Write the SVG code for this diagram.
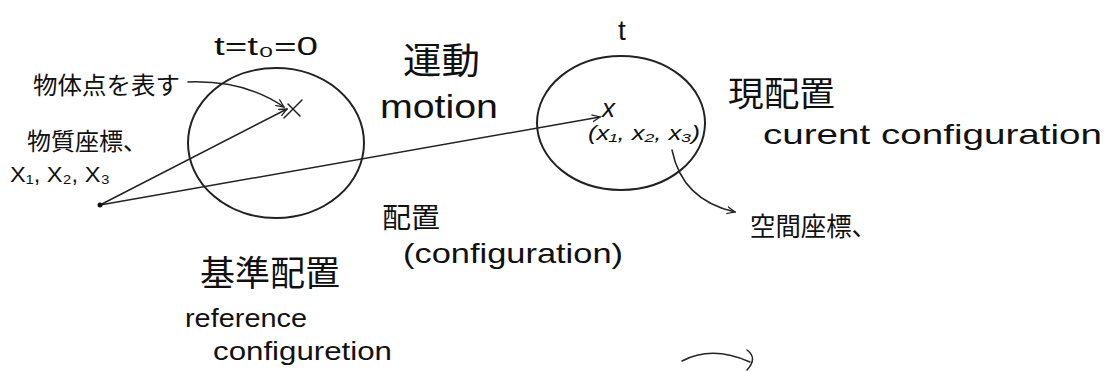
<svg xmlns="http://www.w3.org/2000/svg" width="1109" height="372" viewBox="0 0 1109 372">
<defs>
<marker id="ah" viewBox="0 0 10 10" refX="9" refY="5" markerWidth="9" markerHeight="9" markerUnits="userSpaceOnUse" orient="auto">
<path d="M0,1 L9,5 L0,9" fill="none" stroke="#222" stroke-width="1.4"/>
</marker>
</defs>
<style>
.ln{fill:none;stroke:#222;stroke-width:1.5;stroke-linecap:round}
.cir{fill:none;stroke:#222;stroke-width:2}
.jp{font-family:"Noto Sans CJK JP",sans-serif;fill:#111}
.en{font-family:"Liberation Sans",sans-serif;fill:#111}
</style>
<rect width="1109" height="372" fill="#fff"/>
<g id="connectors">
<line class="ln" x1="100" y1="205" x2="287" y2="109" marker-end="url(#ah)"/>
<line class="ln" x1="100" y1="205" x2="600" y2="117" marker-end="url(#ah)"/>
<path class="ln" d="M188,82 Q245,80 284,107" marker-end="url(#ah)"/>
<path class="ln" d="M672,150 Q682,200 735,212" marker-end="url(#ah)"/>
<circle cx="100" cy="205" r="2.5" fill="#111"/>
</g>
<g id="reference-configuration">
<ellipse class="cir" cx="276" cy="143" rx="88" ry="75"/>
<path class="ln" d="M284,118 L302,100 M288,104 L300,116" stroke-width="2"/>
<text class="en" x="214" y="55" font-size="26" textLength="104" lengthAdjust="spacingAndGlyphs">t=t₀=0</text>
</g>
<g id="current-configuration">
<ellipse class="cir" cx="621" cy="123" rx="84" ry="67"/>
<text class="en" x="618" y="40" font-size="28">t</text>
<text class="en" x="602" y="117" font-size="26" font-style="italic">x</text>
<text class="en" x="588" y="140" font-size="20" font-style="italic" textLength="112" lengthAdjust="spacingAndGlyphs">(x₁, x₂, x₃)</text>
</g>
<g id="labels">
<text class="jp" x="33" y="94" font-size="24" textLength="147" lengthAdjust="spacingAndGlyphs">物体点を表す</text>
<text class="jp" x="27" y="150" font-size="24" textLength="120" lengthAdjust="spacingAndGlyphs">物質座標、</text>
<text class="en" x="10" y="182" font-size="22" textLength="100" lengthAdjust="spacingAndGlyphs">X₁, X₂, X₃</text>
<text class="jp" x="403" y="74" font-size="36" textLength="77" lengthAdjust="spacingAndGlyphs">運動</text>
<text class="en" x="380" y="118" font-size="34" textLength="118" lengthAdjust="spacingAndGlyphs">motion</text>
<text class="jp" x="728" y="106" font-size="34" textLength="107" lengthAdjust="spacingAndGlyphs">現配置</text>
<text class="en" x="763" y="144" font-size="28" textLength="339" lengthAdjust="spacingAndGlyphs">curent configuration</text>
<text class="jp" x="750" y="236" font-size="26" textLength="127" lengthAdjust="spacingAndGlyphs">空間座標、</text>
<text class="jp" x="382" y="228" font-size="28" textLength="58" lengthAdjust="spacingAndGlyphs">配置</text>
<text class="en" x="403" y="263" font-size="28" textLength="220" lengthAdjust="spacingAndGlyphs">(configuration)</text>
<text class="jp" x="200" y="286" font-size="35" textLength="140" lengthAdjust="spacingAndGlyphs">基準配置</text>
<text class="en" x="185" y="327" font-size="26" textLength="122" lengthAdjust="spacingAndGlyphs">reference</text>
<text class="en" x="213" y="360" font-size="26" textLength="179" lengthAdjust="spacingAndGlyphs">configuretion</text>
</g>
<path class="ln" d="M682,361 Q712,345 750,362 M747,350 Q758,358 747,370"/>
</svg>
